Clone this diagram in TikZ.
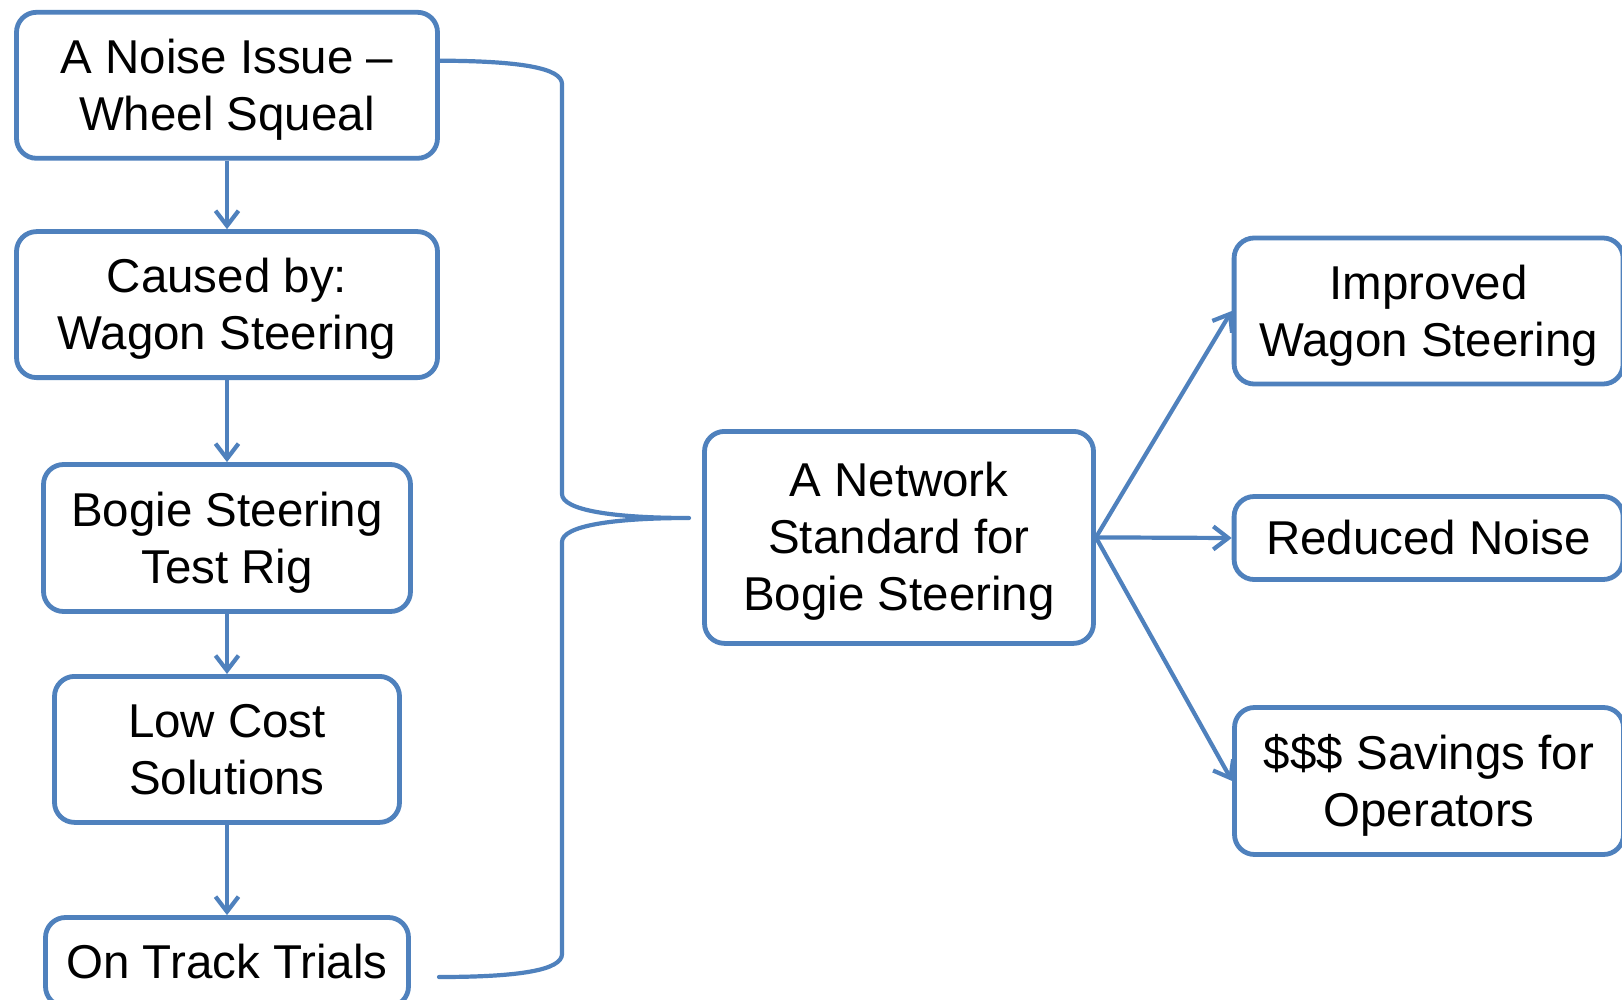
\documentclass[tikz,border=0pt]{standalone}
\usepackage{fontspec}
\setmainfont{Liberation Sans}
\usetikzlibrary{arrows.meta}
\definecolor{bblue}{HTML}{4F81BD}
\begin{document}
\begin{tikzpicture}[x=1pt,y=-1pt,
  box/.style={draw=bblue, line width=4.8pt, rounded corners=20pt, fill=white,
    align=center, inner sep=0pt, text=black, font=\fontsize{47.5}{57}\selectfont,
    text depth=10pt},
  oneline/.style={text height=43pt},
  twoline/.style={text height=100pt},
  threeline/.style={text height=157pt},
  link/.style={draw=bblue, line width=4.2pt, -{Straight Barb[length=15pt,width=23pt]}},
  brace/.style={draw=bblue, line width=4.2pt, line cap=round, line join=round}]
\clip (0,0) rectangle (1622,1000);
\fill[white] (0,0) rectangle (1622,1000);

\node[box, twoline, minimum width=421pt, minimum height=146pt] (n1) at (227,85.3) {A Noise Issue --\\Wheel Squeal};
\node[box, twoline, minimum width=421pt, minimum height=146pt] (n2) at (227,304.6) {Caused by:\\Wagon Steering};
\node[box, twoline, minimum width=367pt, minimum height=147pt] (n3) at (227,538) {Bogie Steering\\Test Rig};
\node[box, twoline, minimum width=345pt, minimum height=146pt] (n4) at (227,749.4) {Low Cost\\Solutions};
\node[box, oneline, minimum width=363pt, minimum height=89pt] (n5) at (227,962) {On Track Trials};

\node[box, threeline, minimum width=389pt, minimum height=212pt] (c) at (899,537.4) {A Network\\Standard for\\Bogie Steering};

\node[box, twoline, minimum width=389pt, minimum height=146pt] (r1) at (1428.6,311) {Improved\\Wagon Steering};
\node[box, oneline, minimum width=389pt, minimum height=83pt] (r2) at (1428.6,538) {Reduced Noise};
\node[box, twoline, minimum width=389pt, minimum height=147pt] (r3) at (1429,781) {\$\$\$ Savings for\\Operators};

\draw[link] (n1.south) -- (n2.north);
\draw[link] (n2.south) -- (n3.north);
\draw[link] (n3.south) -- (n4.north);
\draw[link] (n4.south) -- (n5.north);

\draw[link] (c.east) -- (r1.west);
\draw[link] (c.east) -- (r2.west);
\draw[link] (c.east) -- (r3.west);

\coordinate (bt) at (440,60.7);
\coordinate (bb) at (439,977);
\coordinate (tip) at (689,518);
\draw[brace] (bt) .. controls (520,61) and (562,68) .. (562,84)
  -- (562,494) .. controls (562,510) and (612,518) .. (tip)
  .. controls (612,518) and (562,526) .. (562,542)
  -- (562,954) .. controls (562,970) and (520,977) .. (bb);
\end{tikzpicture}
\end{document}
